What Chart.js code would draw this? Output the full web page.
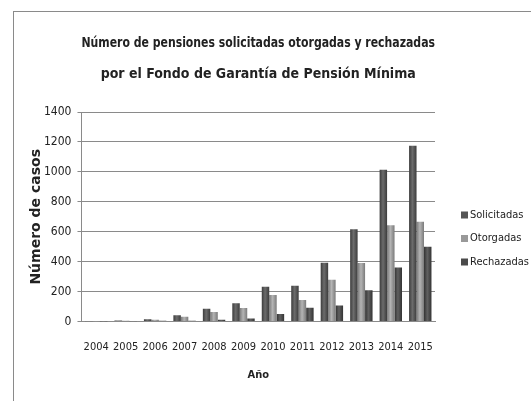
<!DOCTYPE html>
<html>
<head>
<meta charset="utf-8">
<script src="https://cdn.jsdelivr.net/npm/chart.js@4"></script>
<style>
  html, body { margin: 0; padding: 0; background: #fff; }
  #wrap { position: relative; width: 531px; height: 401px; overflow: hidden; }
  #frame { position: absolute; left: 13px; top: 11px; right: -5px; bottom: -5px; border-left: 1px solid #8a8a8a; border-top: 1px solid #8a8a8a; }
  canvas { position: absolute; left: 0; top: 0; }
</style>
</head>
<body>
<div id="wrap">
  <div id="frame"></div>
  <canvas id="chart" width="531" height="401"></canvas>
</div>
<script>
const years = ['2004', '2005', '2006', '2007', '2008', '2009', '2010', '2011', '2012', '2013', '2014', '2015'];
const solicitadas = [3, 8, 15, 42, 85, 122, 232, 240, 393, 617, 1015, 1175];
const otorgadas = [2, 5, 12, 33, 64, 91, 178, 144, 280, 392, 644, 667];
const rechazadas = [1, 2, 5, 5, 12, 20, 50, 93, 108, 210, 362, 500];

const cond = "'DejaVu Sans Condensed', 'DejaVu Sans', sans-serif";

// edge / centre shades, gives the bars their rounded look
const shades = [
    ['#3c3c3c', '#6c6c6c', '#555555'],
    ['#7a7a7a', '#b4b4b4', '#999999'],
    ['#333333', '#606060', '#4a4a4a']
];

const cylinderBars = {
    id: 'cylinderBars',
    beforeDatasetsDraw(chart) {
        const ctx = chart.ctx;
        chart.data.datasets.forEach((ds, i) => {
            chart.getDatasetMeta(i).data.forEach(bar => {
                const g = ctx.createLinearGradient(bar.x - bar.width / 2, 0, bar.x + bar.width / 2, 0);
                g.addColorStop(0, shades[i][0]);
                g.addColorStop(0.45, shades[i][1]);
                g.addColorStop(1, shades[i][0]);
                bar.options = Object.assign({}, bar.options, { backgroundColor: g });
            });
        });
    }
};

const sideLegend = {
    id: 'sideLegend',
    afterDraw(chart) {
        const ctx = chart.ctx;
        ctx.save();
        ctx.font = "11px " + cond;
        ctx.textBaseline = 'middle';
        chart.data.datasets.forEach((ds, i) => {
            const y = 215 + i * 23.5;
            ctx.fillStyle = shades[i][2];
            ctx.fillRect(461, y - 3.5, 7, 7);
            ctx.fillStyle = '#222';
            ctx.fillText(ds.label, 470, y);
        });
        ctx.restore();
    }
};

new Chart(document.getElementById('chart'), {
    type: 'bar',
    data: {
        labels: years,
        datasets: [
            { label: 'Solicitadas', data: solicitadas, backgroundColor: shades[0][2] },
            { label: 'Otorgadas', data: otorgadas, backgroundColor: shades[1][2] },
            { label: 'Rechazadas', data: rechazadas, backgroundColor: shades[2][2] }
        ]
    },
    plugins: [cylinderBars, sideLegend],
    options: {
        responsive: false,
        animation: false,
        layout: { padding: { left: 29, right: 96, top: 0, bottom: 19 } },
        datasets: { bar: { categoryPercentage: 0.76, barPercentage: 1.0 } },
        plugins: {
            title: {
                display: true,
                fullSize: false,
                text: ['Número de pensiones solicitadas otorgadas y rechazadas', 'por el Fondo de Garantía de Pensión Mínima'],
                color: '#222',
                font: { family: cond, size: 14, weight: 'bold', lineHeight: 31 / 14 },
                padding: { top: 28, bottom: 22 }
            },
            legend: { display: false },
            tooltip: { enabled: false }
        },
        scales: {
            x: {
                grid: { display: false, drawTicks: false, tickLength: 0 },
                border: { color: '#8a8a8a' },
                ticks: { color: '#222', font: { family: cond, size: 11 }, padding: 19, maxRotation: 0, autoSkip: false },
                title: { display: true, text: 'Año', color: '#222', font: { family: cond, size: 11, weight: 'bold' }, padding: { top: -4, bottom: 0 } }
            },
            y: {
                min: 0,
                max: 1400,
                ticks: { stepSize: 200, color: '#222', font: { family: cond, size: 12 }, padding: 6, callback: v => String(v) },
                grid: { color: '#8a8a8a', tickLength: 4 },
                border: { color: '#8a8a8a' },
                title: { display: true, text: 'Número de casos', color: '#222', font: { family: "'DejaVu Sans', sans-serif", size: 14, weight: 'bold', lineHeight: 1 }, padding: { top: 0, bottom: -5 } }
            }
        }
    }
});
</script>
</body>
</html>
